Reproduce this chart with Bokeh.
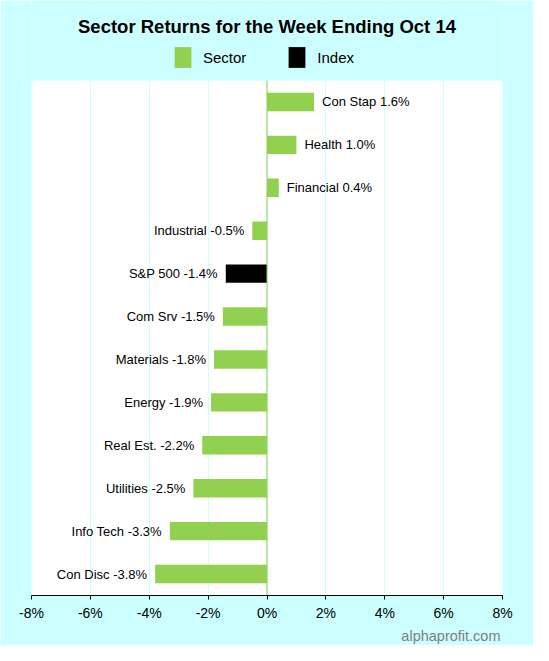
from bokeh.plotting import figure
from bokeh.models import (ColumnDataSource, Legend, LegendItem, Title, Label, BoxAnnotation,
                          PrintfTickFormatter, FixedTicker, Range1d)
from bokeh.embed import file_html
from bokeh.resources import INLINE
from bokeh.core.properties import value

# ---- data (top to bottom as shown) ----
categories = ["Con Stap", "Health", "Financial", "Industrial", "S&P 500", "Com Srv",
              "Materials", "Energy", "Real Est.", "Utilities", "Info Tech", "Con Disc"]
returns = [1.6, 1.0, 0.4, -0.5, -1.4, -1.5, -1.8, -1.9, -2.2, -2.5, -3.3, -3.8]
kinds = ["Sector", "Sector", "Sector", "Sector", "Index", "Sector",
         "Sector", "Sector", "Sector", "Sector", "Sector", "Sector"]
x_ticks = [-8, -6, -4, -2, 0, 2, 4, 6, 8]
title_text = "Sector Returns for the Week Ending Oct 14"
source_text = "alphaprofit.com"

GREEN = "#92D050"
BG = "#CCFFFF"
FONT = "Liberation Sans"

# ---- layout constants (pixels) ----
W, H = 533, 645
BORDER_L, BORDER_R, BORDER_B = 31, 31, 50
HEADER_PX = 80          # header space inside the frame, above the bars
DATA_PX = H - BORDER_B - HEADER_PX
TITLE_PX = 26           # title centre from the top
LEGEND_TOP_PX = 44.4
LEGEND_GLYPH_H = 26

n = len(categories)
px_per_unit = DATA_PX / n
y_top = (n - 0.5) + HEADER_PX / px_per_unit

labels = [f"{c} {v:.1f}%" for c, v in zip(categories, returns)]
ypos = [n - 1 - i for i in range(n)]


def subset(pred):
    idx = [i for i in range(n) if pred(i)]
    return ColumnDataSource(dict(
        y=[ypos[i] for i in idx],
        val=[returns[i] for i in idx],
        label=[labels[i] for i in idx],
    ))


sector_src = subset(lambda i: kinds[i] == "Sector")
index_src = subset(lambda i: kinds[i] == "Index")
pos_src = subset(lambda i: returns[i] >= 0)
neg_src = subset(lambda i: returns[i] < 0)

p = figure(width=W, height=H, output_backend="svg", toolbar_location=None,
           x_range=Range1d(x_ticks[0], x_ticks[-1]), y_range=Range1d(-0.5, y_top),
           y_axis_location=None,
           min_border_left=BORDER_L, min_border_right=BORDER_R, min_border_top=0,
           min_border_bottom=BORDER_B,
           background_fill_color=BG, border_fill_color=BG, outline_line_color=None)
p.title.visible = False

# white plotting area behind grid and bars
p.add_layout(BoxAnnotation(left=x_ticks[0], right=x_ticks[-1], bottom=-0.5, top=n - 0.5,
                           fill_color="white", fill_alpha=1, line_color=None, level="image"))

r_sector = p.hbar(y="y", right="val", left=0, height=0.43, source=sector_src,
                  fill_color=GREEN, line_color=None)
r_index = p.hbar(y="y", right="val", left=0, height=0.43, source=index_src,
                 fill_color="black", line_color=None)

# zero line
p.segment(x0=[0], y0=[-0.5], x1=[0], y1=[n - 0.5], line_color=GREEN, line_width=1)

common = dict(text_baseline="middle", text_font=value(FONT), text_font_size="13px",
              text_color="black")
p.text(x="val", y="y", text="label", source=pos_src, x_offset=8, text_align="left", **common)
p.text(x="val", y="y", text="label", source=neg_src, x_offset=-8, text_align="right", **common)

p.ygrid.visible = False
p.xgrid.grid_line_color = BG
p.xgrid.grid_line_width = 1

ax = p.xaxis[0]
ax.ticker = FixedTicker(ticks=x_ticks)
ax.formatter = PrintfTickFormatter(format="%d%%")
ax.minor_tick_line_color = None
ax.major_tick_in = 0
ax.major_tick_out = 4
ax.axis_line_color = "black"
ax.major_tick_line_color = "black"
ax.major_label_text_font = FONT
ax.major_label_text_font_size = "14px"
ax.major_label_text_color = "black"
ax.major_label_standoff = 5

# title inside the (extended) frame
p.add_layout(Label(x=0, y=(n - 0.5) + (HEADER_PX - TITLE_PX) / px_per_unit,
                   text=title_text, text_align="center", text_baseline="middle",
                   text_font=FONT, text_font_size="18.5px", text_font_style="bold",
                   text_color="black"))

legend_bottom = (H - BORDER_B) - (LEGEND_TOP_PX + LEGEND_GLYPH_H)
legend = Legend(items=[LegendItem(label="Sector", renderers=[r_sector]),
                       LegendItem(label="Index", renderers=[r_index])],
                orientation="horizontal", location=(141, legend_bottom),
                glyph_width=21, glyph_height=LEGEND_GLYPH_H, label_standoff=10, spacing=40,
                label_text_font=FONT, label_text_font_size="15px", label_text_color="black",
                border_line_color=None, background_fill_alpha=0,
                padding=0, margin=0)
p.add_layout(legend, "center")

p.add_layout(Title(text=source_text, align="right", text_color="#808080",
                   text_font=FONT, text_font_size="14.5px", text_font_style="normal",
                   standoff=4, offset=2),
             "below")

open("out.html", "w").write(file_html(p, INLINE))
